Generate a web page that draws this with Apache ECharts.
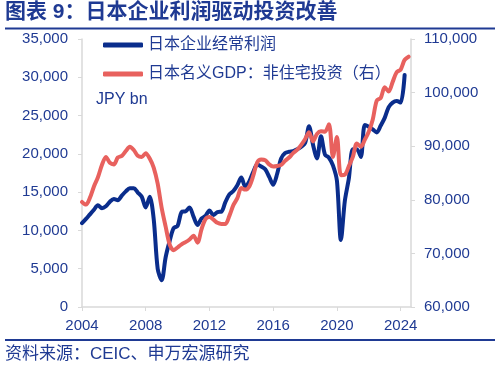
<!DOCTYPE html>
<html>
<head>
<meta charset="utf-8">
<script src="https://cdn.jsdelivr.net/npm/echarts@6/dist/echarts.min.js"></script>
<style>
html,body{margin:0;padding:0;background:#fff;}
#c{width:500px;height:370px;}
</style>
</head>
<body>
<div id="c"></div>
<script>
// ---- data ----
var startYear = 2004;
var xTicks = [2004, 2008, 2012, 2016, 2020, 2024];
var leftTicks = [0, 5000, 10000, 15000, 20000, 25000, 30000, 35000];
var rightTicks = [60000, 70000, 80000, 90000, 100000, 110000];
var seriesNames = ['日本企业经常利润', '日本名义GDP：非住宅投资（右）'];
// 日本企业经常利润, quarterly from 2004Q1 (JPY bn)
var profits = [10950, 11500, 12100, 12700, 13300, 12900, 13150, 13750, 14100, 13950,
  14550, 15100, 15500, 15500, 14950, 14400, 13000, 14400, 11500, 5000,
  3500, 6500, 8600, 10300, 10600, 12400, 12500, 13000, 11800, 10700,
  11550, 11900, 12600, 12000, 12400, 12450, 13700, 14700, 15150, 15900,
  16900, 15700, 16400, 17650, 18600, 18350, 18000, 17000, 15950, 17400,
  19400, 20100, 20280, 20350, 20600, 20900, 21400, 23600, 21200, 19400,
  22300, 19900, 19500, 18500, 16500, 8750, 13900, 16800, 20600, 20600,
  19600, 23770, 23550, 23200, 22800, 23700, 24700, 26100, 26700, 26900,
  26700, 30300];
// 日本名义GDP：非住宅投资, quarterly from 2004Q1 (JPY bn, right axis)
var investment = [79600, 79100, 80400, 82500, 84200, 86500, 88000, 86900, 86600, 87900,
  88200, 89100, 89900, 89300, 88200, 88000, 88700, 87700, 86000, 83000,
  78500, 75000, 71700, 70600, 71100, 71700, 72100, 72600, 73300, 72000,
  74500, 76400, 76800, 76300, 75700, 75500, 75500, 77000, 79000, 80300,
  82200, 81900, 82500, 84500, 87000, 87500, 87400, 86600, 86200, 86300,
  86500, 87300, 87900, 88700, 89300, 90200, 91300, 92600, 90900, 92300,
  92800, 92700, 94100, 88000, 91700, 84600, 84700, 86300, 88000, 90500,
  89900, 91200, 92700, 95000, 98500, 99000, 101000, 100200, 102000, 103800,
  104300, 106100, 106700];

function toPairs(vals) {
  return vals.map(function (v, i) { return [startYear + i / 4, v]; });
}

var navy = '#1f3a93';
var fontFam = "'Liberation Sans', Arial, 'Noto Sans CJK SC', sans-serif";
var chart = echarts.init(document.getElementById('c'), null, {renderer: 'canvas'});
chart.setOption({
  backgroundColor: '#fff',
  animation: false,
  textStyle: {fontFamily: fontFam},
  title: {
    text: '图表 9：日本企业利润驱动投资改善',
    left: 5, top: 2, padding: 0,
    textStyle: {fontSize: 21, fontWeight: 'bold', color: navy, fontFamily: fontFam}
  },
  legend: {
    orient: 'vertical',
    left: 103, top: 35, padding: 0,
    itemWidth: 40, itemHeight: 5,
    itemGap: 9,
    icon: 'roundRect',
    data: seriesNames,
    textStyle: {fontSize: 16, color: navy, lineHeight: 20, fontFamily: fontFam}
  },
  grid: {left: 82, right: 89, top: 39, bottom: 63, containLabel: false},
  xAxis: {
    type: 'value',
    min: 2004, max: 2024.65,
    interval: 4,
    splitLine: {show: false},
    axisLine: {lineStyle: {color: '#d9d9d9', width: 1.5}},
    axisTick: {show: true, length: 4, lineStyle: {color: '#d9d9d9'}, customValues: xTicks},
    axisLabel: {customValues: xTicks, color: navy, fontSize: 15, margin: 11, fontFamily: fontFam,
      formatter: function (v) { return String(v); }}
  },
  yAxis: [{
    type: 'value', min: 0, max: 35000, interval: 5000,
    splitLine: {show: false},
    axisLine: {show: true, lineStyle: {color: '#d9d9d9', width: 1.5}},
    axisTick: {show: true, length: 4, lineStyle: {color: '#d9d9d9'}},
    axisLabel: {color: navy, fontSize: 15, margin: 14, fontFamily: fontFam,
      formatter: function (v) { return v.toLocaleString('en-US'); }}
  }, {
    type: 'value', min: 60000, max: 110000, interval: 10000,
    position: 'right',
    splitLine: {show: false},
    axisLine: {show: true, lineStyle: {color: '#d9d9d9', width: 1.5}},
    axisTick: {show: true, length: 4, lineStyle: {color: '#d9d9d9'}},
    axisLabel: {color: navy, fontSize: 15, margin: 13, fontFamily: fontFam,
      formatter: function (v) { return v.toLocaleString('en-US'); }}
  }],
  series: [{
    name: seriesNames[0], type: 'line', yAxisIndex: 0,
    data: toPairs(profits), showSymbol: false, smooth: 0.3,
    lineStyle: {color: '#0a2d8c', width: 4, cap: 'round', join: 'round'},
    itemStyle: {color: '#0a2d8c'}, z: 2
  }, {
    name: seriesNames[1], type: 'line', yAxisIndex: 1,
    data: toPairs(investment), showSymbol: false, smooth: 0.3,
    lineStyle: {color: '#e8615e', width: 4, cap: 'round', join: 'round'},
    itemStyle: {color: '#e8615e'}, z: 3
  }],
  graphic: [
    {type: 'rect', shape: {x: 5, y: 27.5, width: 490, height: 2}, style: {fill: '#1f3a93'}},
    {type: 'rect', shape: {x: 5, y: 339, width: 490, height: 2}, style: {fill: '#1f3a93'}},
    {type: 'text', left: 96, top: 92, style: {text: 'JPY bn', fontSize: 16, fill: navy, fontFamily: fontFam}},
    {type: 'text', left: 5, top: 346, style: {text: '资料来源：CEIC、申万宏源研究', fontSize: 17, fill: navy, fontFamily: fontFam}}
  ]
});
</script>
</body>
</html>
